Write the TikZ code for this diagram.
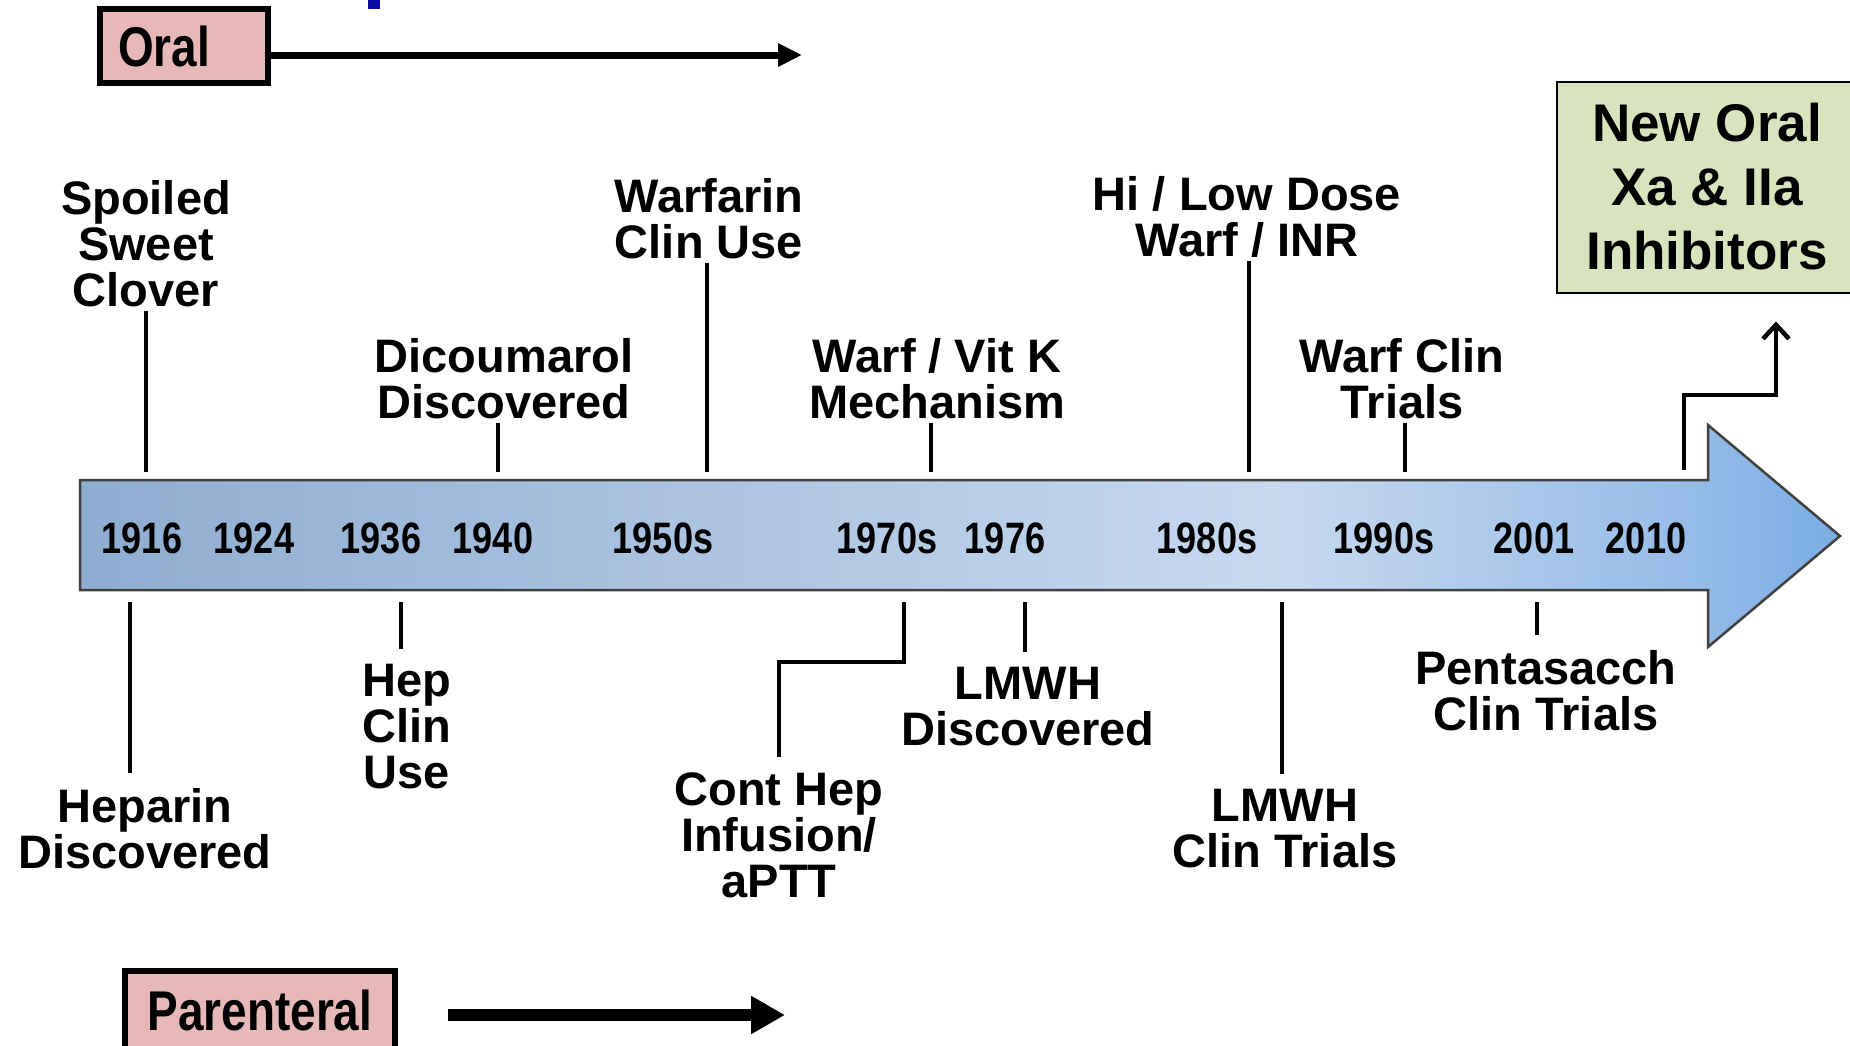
\documentclass[tikz,border=0pt]{standalone}
\usepackage{fontspec}
\usepackage{tikz}
\usetikzlibrary{arrows.meta}
\setmainfont{Liberation Sans}
\newfontfamily\narrowfont[FakeStretch=0.82]{Liberation Sans}

\definecolor{routepink}{HTML}{E6B9B8}
\definecolor{newgreen}{HTML}{D7E4BD}
\definecolor{titleblue}{HTML}{0B0B9E}
\definecolor{barleft}{HTML}{8FADD1}
\definecolor{barmid}{HTML}{C7D9EF}
\definecolor{barright}{HTML}{95BBE8}
\definecolor{bartip}{HTML}{7AADE4}
\pgfdeclarehorizontalshading{barshade}{100bp}{color(0bp)=(barleft); color(25bp)=(barleft); color(59bp)=(barmid); color(71bp)=(barright); color(75bp)=(bartip); color(100bp)=(bartip)}

\tikzset{
	event/.style={align=center, font=\bfseries\fontsize{47}{46}\selectfont},
	year/.style={font=\narrowfont\bfseries\fontsize{44}{44}\selectfont},
	route/.style={draw=black, line width=6pt, fill=routepink, font=\narrowfont\bfseries\fontsize{56}{56}\selectfont},
	newbox/.style={draw=black, line width=2pt, fill=newgreen, align=center, minimum width=300pt, minimum height=211pt, font=\bfseries\fontsize{53}{64}\selectfont},
	tick/.style={line width=4.5pt},
	lowtick/.style={tick, shorten >=12pt},
	newarrow/.style={line width=4.5pt, -{Straight Barb[length=14pt,width=26pt]}},
}

\begin{document}
\begin{tikzpicture}[x=1pt,y=-1pt]

	\useasboundingbox (0,0) rectangle (1850,1045);

	\fill[titleblue] (368,0) rectangle (380,9);

	\shadedraw[shading=barshade, draw=black!75, line width=2.5pt] (80,480) -- (1708,480) -- (1708,425) -- (1840,536) -- (1708,647) -- (1708,590) -- (80,590) -- cycle;

	\node[route, text width=132pt, align=left, inner xsep=18pt, minimum height=74pt] (oral) at (184,46) {Oral};
	\node[route, minimum width=270pt, minimum height=78pt] (parenteral) at (260,1010) {Parenteral};
	\node[newbox] (neworal) at (1707,187) {New Oral\\Xa \& IIa\\Inhibitors};

	\coordinate (oralend) at (802,55);
	\coordinate (parend) at (785,1015);
	\draw[line width=7pt, -{Triangle[length=24pt,width=22pt]}] (oral.east |- oralend) -- (oralend);
	\draw[line width=12pt, -{Triangle[length=34pt,width=36pt]}] ([xshift=50pt]parenteral.east |- parend) -- (parend);

	\node[year] (y1916) at (142,538) {1916};
	\node[year] (y1924) at (254,538) {1924};
	\node[year] (y1936) at (381,538) {1936};
	\node[year] (y1940) at (493,538) {1940};
	\node[year] (y1950s) at (663,538) {1950s};
	\node[year] (y1970s) at (887,538) {1970s};
	\node[year] (y1976) at (1005,538) {1976};
	\node[year] (y1980s) at (1207,538) {1980s};
	\node[year] (y1990s) at (1384,538) {1990s};
	\node[year] (y2001) at (1534,538) {2001};
	\node[year] (y2010) at (1646,538) {2010};

	\node[event] (clover) at (146,244) {Spoiled\\Sweet\\Clover};
	\node[event] (dicoumarol) at (504,379) {Dicoumarol\\Discovered};
	\node[event] (warfarin) at (709,219) {Warfarin\\Clin Use};
	\node[event] (vitk) at (937,379) {Warf / Vit K\\Mechanism};
	\node[event] (inr) at (1247,217) {Hi / Low Dose\\Warf / INR};
	\node[event] (warfclin) at (1402,379) {Warf Clin\\Trials};

	\node[event] (heparin) at (145,829) {Heparin\\Discovered};
	\node[event] (hepclin) at (407,727) {Hep\\Clin\\Use};
	\node[event] (cont) at (779,835) {Cont Hep\\Infusion/\\aPTT};
	\node[event] (lmwhdisc) at (1028,707) {LMWH\\Discovered};
	\node[event] (lmwhclin) at (1285,829) {LMWH\\Clin Trials};
	\node[event] (penta) at (1546,691) {Pentasacch\\Clin Trials};

	\coordinate (a1) at (146,472);
	\coordinate (a2) at (498,472);
	\coordinate (a3) at (707,472);
	\coordinate (a4) at (931,472);
	\coordinate (a5) at (1249,472);
	\coordinate (a6) at (1405,472);
	\coordinate (b1) at (130,602);
	\coordinate (b2) at (401,602);
	\coordinate (b3) at (904,602);
	\coordinate (b4) at (1025,602);
	\coordinate (b5) at (1282,602);
	\coordinate (b6) at (1537,602);
	\coordinate (bend) at (779,662);
	\coordinate (n1) at (1684,470);
	\coordinate (n2) at (1776,395);

	\draw[tick] (clover.south -| a1) -- (a1);
	\draw[tick] (dicoumarol.south -| a2) -- (a2);
	\draw[tick] (warfarin.south -| a3) -- (a3);
	\draw[tick] (vitk.south -| a4) -- (a4);
	\draw[tick] (inr.south -| a5) -- (a5);
	\draw[tick] (warfclin.south -| a6) -- (a6);

	\draw[lowtick] (b1) -- (b1 |- heparin.north);
	\draw[lowtick] (b2) -- (b2 |- hepclin.north);
	\draw[lowtick] (b3) |- (bend) -- (cont.north);
	\draw[lowtick] (b4) -- (b4 |- lmwhdisc.north);
	\draw[lowtick] (b5) -- (b5 |- lmwhclin.north);
	\draw[lowtick] (b6) -- (b6 |- penta.north);

	\draw[newarrow, shorten >=28pt] (n1) |- (n2) -- (n2 |- neworal.south);

\end{tikzpicture}
\end{document}
